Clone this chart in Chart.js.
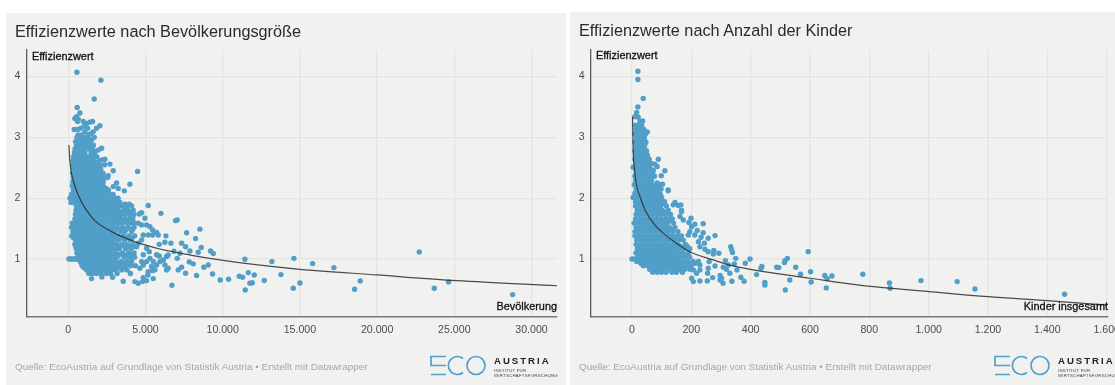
<!DOCTYPE html>
<html>
<head>
<meta charset="utf-8">
<title>Effizienzwerte</title>
<script src="https://cdn.jsdelivr.net/npm/chart.js@4/dist/chart.umd.min.js"></script>
<style>
html, body { margin: 0; padding: 0; background: #fff; width: 1115px; height: 385px; overflow: hidden; font-family: "Liberation Sans", Arial, sans-serif; }
.panel { position: absolute; background: #f1f1f0; }
canvas { position: absolute; left: 0; top: 0; }
.title { position: absolute; font-size: 16.25px; color: #2a2a2a; white-space: nowrap; line-height: 20px; }
.axis-label { position: absolute; font-size: 10.9px; color: #111; white-space: nowrap; line-height: 14px; -webkit-text-stroke: 0.3px #111; }
.source { position: absolute; font-size: 9.95px; color: #a6a6a6; white-space: nowrap; line-height: 14px; }
.logo-name { position: absolute; font-size: 9.6px; font-weight: bold; letter-spacing: 2px; color: #222; white-space: nowrap; line-height: 10px; }
.logo-sub { position: absolute; font-size: 4.4px; letter-spacing: 0.2px; color: #444; line-height: 5px; white-space: nowrap; }
svg { position: absolute; }
</style>
</head>
<body>
<div class="panel" style="left:6px;top:13px;width:560px;height:372px"><canvas id="popChart" width="560" height="372"></canvas></div>
<div class="panel" style="left:570px;top:12px;width:545px;height:373px"><canvas id="kidChart" width="545" height="373"></canvas></div>

<div class="title" style="left:15px;top:21px">Effizienzwerte nach Bevölkerungsgröße</div>
<div class="title" style="left:579px;top:20px">Effizienzwerte nach Anzahl der Kinder</div>
<div class="axis-label" style="left:32px;top:49px">Effizienzwert</div>
<div class="axis-label" style="left:596px;top:48px">Effizienzwert</div>
<div class="axis-label" style="right:558px;top:299px">Bevölkerung</div>
<div class="axis-label" style="right:7px;top:299px">Kinder insgesamt</div>
<div class="source" style="left:15px;top:360px">Quelle: EcoAustria auf Grundlage von Statistik Austria • Erstellt mit Datawrapper</div>
<div class="source" style="left:579px;top:360px">Quelle: EcoAustria auf Grundlage von Statistik Austria • Erstellt mit Datawrapper</div>

<svg style="left:430px;top:355px" width="60" height="22" fill="none" stroke="#4fa0cf" stroke-width="1.7"><path d="M16 1.5H1V10.5H16M1 19.5H16"/><path d="M33 3.5A9 9 0 1 0 33 17.5"/><circle cx="46" cy="10.5" r="9"/></svg>
<div class="logo-name" style="left:494px;top:356px">AUSTRIA</div>
<div class="logo-sub" style="left:494px;top:368px">INSTITUT FÜR<br>WIRTSCHAFTSFORSCHUNG</div>
<svg style="left:994px;top:355px" width="60" height="22" fill="none" stroke="#4fa0cf" stroke-width="1.7"><path d="M16 1.5H1V10.5H16M1 19.5H16"/><path d="M33 3.5A9 9 0 1 0 33 17.5"/><circle cx="46" cy="10.5" r="9"/></svg>
<div class="logo-name" style="left:1058px;top:356px">AUSTRIA</div>
<div class="logo-sub" style="left:1058px;top:368px">INSTITUT FÜR<br>WIRTSCHAFTSFORSCHUNG</div>

<script>
// [efficiency, x, x, x ...] for the dense part of each cloud
var popRows = [
  [3.00,560,790,1010,1240],
  [2.93,470,700,910,1120,1360],
  [2.87,520,730,950,1180,1420,1620],
  [2.81,440,660,880,1090,1310,1530],
  [2.75,400,610,840,1060,1480,1700],
  [2.68,340,560,770,990,1230,1450,1660,1850],
  [2.62,310,520,750,960,1190,1400,1620],
  [2.55,290,500,720,940,1170,1380,1590,1820,2030,2350],
  [2.48,330,540,770,980,1210,1440,1660,1870,2100],
  [2.41,280,490,710,930,1150,1370,1590,1810,2040,2250],
  [2.34,320,530,760,970,1200,1430,1650,1860,2090,2320,2540],
  [2.27,290,510,730,950,1170,1380,1610,1840,2050,2270],
  [2.20,260,480,700,920,1140,1360,1580,1800,2020,2260],
  [2.13,330,550,780,990,1220,1440,1660,1880,2100,2330,2600],
  [2.06,210,430,650,870,1090,1310,1530,1750,1970,2190,2410,2650,2900],
  [2.00,110,340,560,780,1000,1220,1440,1660,1880,2100,2320,2560,2800,3020,3220],
  [1.93,180,420,640,860,1080,1300,1520,1740,1960,2180,2400,2640,2880,3100,3350],
  [1.87,540,760,980,1200,1420,1640,1860,2080,2300,2540,2780,3000,3240,3500,3800,4100],
  [1.80,500,720,940,1160,1380,1600,1820,2040,2260,2500,2760,2980,3240,3600,3850,4200],
  [1.73,460,680,900,1120,1340,1560,1780,2000,2220,2440,2700,2940,3180,3420,3700,3980,4250],
  [1.66,430,650,870,1090,1310,1530,1750,1970,2190,2410,2650,2900,3130,3370,3650,3950,4180],
  [1.59,250,480,700,920,1140,1360,1580,1800,2020,2240,2480,2720,2960,3200,3440,3780,4080,4300],
  [1.52,210,440,660,880,1100,1320,1540,1760,1980,2200,2420,2660,2900,3180,3520,3880,4260],
  [1.45,300,530,750,970,1190,1410,1630,1850,2070,2290,2510,2750,3010,3380,3660,4100],
  [1.38,220,440,660,880,1100,1320,1540,1760,1980,2200,2420,2640,2880,3200,3560,3920,4300],
  [1.31,480,700,920,1140,1360,1580,1800,2020,2240,2460,2680,2920,3260,3640,4000],
  [1.24,420,640,860,1080,1300,1520,1740,1960,2180,2400,2620,2850,3120,3480,3810,4200],
  [1.17,520,740,960,1180,1400,1620,1840,2060,2280,2500,2740,3000,3300,3700,4050],
  [1.10,560,780,1000,1220,1440,1660,1880,2100,2320,2540,2780,3100,3500,3900,4260],
  [1.03,640,860,1080,1300,1520,1740,1960,2180,2400,2620,2860,3160,3620,3980,4300],
  [1.00,40,130,230,340,450,560],
  [0.96,780,1000,1220,1440,1660,1880,2100,2320,2540,2780,3050,3420,3780,4100],
  [0.89,900,1120,1340,1560,1780,2000,2220,2440,2680,2920,3300,3700,4040,4350],
  [0.82,1180,1400,1620,1840,2060,2290,2520,2790,3060,3450,3800],
  [0.76,1330,1560,1830,2130,2480,2740,3160,4020],
  // second pass through the same cloud, filling the gaps between the rows above
  [2.58,400,610,840,1070,1290,1490],
  [2.44,380,610,830,1040,1270,1490,1720,1950],
  [2.30,400,620,840,1060,1280,1500,1730,1950,2170],
  [2.16,420,650,880,1110,1330,1550,1770,1990,2210,2450],
  [2.03,240,450,670,890,1110,1330,1550,1770,1990,2210,2440,2680,2920],
  [1.90,490,710,930,1150,1370,1590,1810,2030,2250,2490,2760,2990,3230,3680,3950],
  [1.77,570,790,1010,1230,1450,1670,1890,2110,2330,2600,2860,3100,3340,3760,4060],
  [1.63,540,760,980,1200,1420,1640,1860,2080,2300,2560,2810,3050,3290,3560,3860],
  [1.49,330,550,770,990,1210,1430,1650,1870,2090,2310,2550,2800,3090,3450,3760,4160],
  [1.35,330,570,790,1010,1230,1450,1670,1890,2110,2330,2550,2780,3090,3420,3740,4130],
  [1.21,480,700,920,1140,1360,1580,1800,2020,2240,2460,2700,2990,3310,3640,4010],
  [1.07,650,870,1090,1310,1530,1750,1970,2190,2410,2660,2950,3320,3720,4080],
  [0.93,840,1060,1280,1500,1720,1940,2160,2380,2620,2870,3190,3580,3910],
  [0.86,1000,1240,1460,1680,1900,2120,2350,2600,2860,3160,3560]
];
// separate points on the left panel: [population, efficiency]
var popPoints = [
  [557,4.07],[2110,3.94],[1680,3.63],[577,3.49],[751,3.40],[535,3.34],[643,3.30],[427,3.31],[600,3.26],
  [967,3.26],[1183,3.23],[1399,3.25],[1572,3.26],[384,3.13],[600,3.13],[816,3.15],[1032,3.18],[1248,3.15],
  [1075,3.09],[2047,3.19],[1830,3.15],[1615,3.09],[1464,3.06],[1291,3.04],[643,3.04],[860,3.04],[1680,3.00],
  [1507,2.96],[1615,2.87],[2155,2.82],[1938,2.79],[1723,2.77],[2370,2.64],[2155,2.63],[1938,2.60],[2695,2.56],
  [2910,2.45],[4486,2.44],[2586,2.37],[3126,2.25],[3990,2.23],[2910,2.19],[3236,2.16],[3625,2.12],
  [5177,1.88],[5998,1.75],[6948,1.63],[7056,1.64],[8524,1.49],[7660,1.43],[6322,1.38],[8243,1.335],[6257,1.275],
  [6646,1.26],[5890,1.24],[7336,1.26],[7595,1.20],[8610,1.19],[7876,1.13],[8416,1.11],[9215,1.13],[9388,1.09],
  [6840,1.127],[7229,1.094],[7056,1.01],[7833,0.95],[8092,0.92],[9064,0.90],[8783,0.865],[9344,0.754],[8308,0.727],
  [7336,0.865],[7121,0.82],[7595,0.765],[6710,0.568],[5501,0.677],[5156,0.738],[4854,0.694],[4810,0.628],[5070,0.644],
  [4530,0.60],[4314,0.628],[3558,0.633],[2867,0.70],[2176,0.705],[1507,0.677],[9841,0.655],[10380,0.666],[11071,0.716],
  [11288,0.70],[11655,0.776],[12043,0.738],[12691,0.645],[13770,0.743],[11439,0.995],[13187,0.957],[14612,1.01],
  [14569,0.518],[11460,0.49],[11763,0.60],[11914,0.61],[15821,0.924],[17203,0.858],[22730,1.116],[24630,0.623],
  [23700,0.518],[28775,0.414],[18540,0.502],[18908,0.639],[15000,0.606],
  [4530,1.587],[4746,1.56],[5070,1.56],[5286,1.53],[4962,1.67],[4746,1.76],[4595,1.74],[5458,1.477],[5717,1.434],
  [5825,1.395],[4854,1.395],[5178,1.395],[5458,1.395],[4746,1.313],[5070,1.176],[5242,1.12],[4854,1.07],[5717,1.07],
  [5890,1.05],[6149,0.984],[6365,1.04],[6473,1.066],[5286,1.01],[5501,0.957],[5717,0.90],[4746,0.957],[5070,0.957],
  [4638,0.847],[4854,0.902],[5393,0.875],[5609,0.82],[5458,0.81],[6257,0.902],[6473,0.847],[6365,0.82],[5933,0.957],
  [5178,0.79],[4422,1.20],[4206,1.20],[4530,1.26]
];
var popTrendX = [40,100,200,430,700,1075,1720,2800,4310,6000,8000,9800,12000,15000,20000,25150,31650];
var popTrendY = [2.875,2.62,2.42,2.2,2.02,1.84,1.63,1.45,1.285,1.16,1.06,0.985,0.91,0.83,0.737,0.643,0.56];
var popTicks = [0,5000,10000,15000,20000,25000,30000];

var kidRows = [
  [3.20,12,24,33],
  [3.13,14,27,40],
  [3.06,10,22,35,46],
  [2.99,15,28,42],
  [2.92,10,22,36,47],
  [2.85,14,28,42],
  [2.78,10,23,36,49],
  [2.71,14,28,42,52],
  [2.64,10,23,36,49,58],
  [2.57,14,28,42,55],
  [2.50,8,20,34,48,60],
  [2.43,14,28,42,56,70],
  [2.36,10,23,37,50,64,76],
  [2.29,12,26,40,54,66],
  [2.22,10,24,38,52,66,80,96],
  [2.15,14,28,42,56,70,84,98],
  [2.08,10,24,38,52,66,80,94],
  [2.01,4,18,32,46,60,74,88,100],
  [1.94,12,26,40,54,68,82,96,110],
  [1.87,12,26,40,54,68,82,96,116],
  [1.80,18,32,46,60,74,88,102,122,167],
  [1.73,14,28,42,56,70,84,98,114,130],
  [1.66,12,26,40,54,68,82,96,110,124,136],
  [1.59,7,21,35,49,63,77,91,105,119,140],
  [1.52,14,28,42,56,70,84,98,112,126,145],
  [1.45,10,24,38,52,66,80,94,108,122,138,155],
  [1.38,10,24,38,52,66,80,94,108,122,136,152,167],
  [1.31,16,30,44,58,72,86,100,114,128,142,158,173],
  [1.24,14,28,42,56,70,84,98,112,126,140,154,180],
  [1.17,18,32,46,60,74,88,102,116,130,144,160,176,195],
  [1.10,14,28,42,56,70,84,98,112,126,140,154,170,190],
  [1.03,20,34,48,62,76,90,104,118,132,146,160,178,195],
  [1.00,0,8,18],
  [0.96,16,30,44,58,72,86,100,114,128,142,156,170,186,206,224],
  [0.89,38,52,66,80,94,108,122,136,150,166,184,200],
  [0.83,60,74,88,102,116,130,144,160,178,195],
  [0.78,70,85,100,115,135,150,170],
  // second pass through the same cloud, filling the gaps between the rows above
  [3.03,18,31,41],
  [2.89,18,32,44],
  [2.75,18,31,44],
  [2.61,17,30,43,52],
  [2.47,21,35,49,62],
  [2.33,17,30,44,58],
  [2.19,17,31,45,59,73,88],
  [2.05,17,31,45,59,73,87,96],
  [1.91,19,33,47,61,75,89,103],
  [1.77,25,39,53,67,81,95,110,120],
  [1.63,19,33,47,61,75,89,103,117,129],
  [1.49,21,35,49,63,77,91,105,119,132],
  [1.35,23,37,51,65,79,93,107,121,135,149,162],
  [1.21,21,35,49,63,77,91,105,119,133,147,163,186],
  [1.07,25,39,53,67,81,95,109,123,137,151,166,184],
  [0.93,30,44,58,72,86,100,114,128,142,158,178,196,214]
];
// separate points on the right panel: [children, efficiency]
var kidPoints = [
  [20,4.087],[20,3.95],[38,3.64],[20,3.50],[16,3.41],[10,3.34],[21,3.33],[36,3.27],[27,3.26],[52,3.09],[38,3.12],
  [89,2.64],[55,2.64],[66,2.57],[77,2.56],[85,2.52],[72,2.46],[111,2.45],[99,2.37],[103,2.23],[85,2.25],[122,2.135],
  [4,2.51],[8,2.22],[122,2.12],[145,1.93],[139,1.89],[156,1.88],[165,1.89],[167,1.78],[162,1.70],[173,1.64],[199,1.67],
  [192,1.60],[212,1.57],[240,1.58],[201,1.53],[220,1.47],[195,1.45],[190,1.395],[240,1.43],[212,1.395],[233,1.357],
  [257,1.34],[280,1.384],[244,1.26],[224,1.285],[229,1.20],[246,1.16],[257,1.12],[276,1.14],[293,1.094],[274,1.08],
  [333,1.20],[336,1.15],[339,1.105],[350,1.01],[315,0.973],[345,0.92],[398,1.00],[382,0.93],[325,0.90],[308,0.864],
  [354,0.82],[330,0.765],[318,0.83],[280,0.885],[257,0.847],[260,0.957],[229,0.90],[229,0.82],[218,0.765],[207,0.82],
  [255,0.765],[272,0.694],[297,0.727],[302,0.683],[297,0.655],[307,0.60],[337,0.633],[367,0.70],[378,0.633],[254,0.639],
  [229,0.639],[207,0.628],[201,0.683],[420,0.743],[435,0.847],[438,0.875],[448,0.612],[448,0.573],[488,0.864],[495,0.858],
  [514,0.94],[516,0.973],[524,1.01],[552,0.864],[568,0.749],[517,0.491],[532,0.655],[594,1.12],[602,0.79],[604,0.622],
  [650,0.727],[658,0.677],[655,0.524],[674,0.72],[778,0.749],[868,0.606],[870,0.518],[974,0.644],[1096,0.628],[1156,0.507],[1458,0.42]
];
var kidTrendX = [2,4,8,16,27,44,72,106,150,195,274,330,399,600,786,1001,1201,1400,1600];
var kidTrendY = [3.34,2.8,2.5,2.2,2.03,1.81,1.59,1.42,1.26,1.12,0.985,0.9,0.83,0.683,0.557,0.464,0.38,0.316,0.24];
var kidTicks = [0,200,400,600,800,1000,1200,1400,1600];

var yTicks = [1,2,3,4];

function cloud(rows, points) {
    var out = [];
    rows.forEach(function (row) {
        for (var i = 1; i < row.length; i++) {
            out.push({ x: row[i], y: row[0] });
        }
    });
    points.forEach(function (p) {
        out.push({ x: p[0], y: p[1] });
    });
    return out;
}

function trend(xs, ys) {
    return xs.map(function (x, i) {
        return { x: x, y: ys[i] };
    });
}

function setTicks(list) {
    return function (scale) {
        scale.ticks = list.map(function (v) {
            return { value: v };
        });
    };
}

function dePoints(value) {
    return String(value).replace(/\B(?=(\d{3})+$)/g, '.');
}

function drawPanel(id, points, line, xTicks, xMin, xMax, box) {
    new Chart(document.getElementById(id).getContext('2d'), {
        type: 'scatter',
        data: {
            datasets: [{
                data: line,
                showLine: true,
                pointRadius: 0,
                borderColor: 'rgba(45, 45, 45, 0.85)',
                borderWidth: 1.2,
                cubicInterpolationMode: 'monotone',
                order: 0
            }, {
                data: points,
                pointRadius: 2.7,
                pointBorderWidth: 0,
                backgroundColor: '#519fc8',
                order: 1
            }]
        },
        options: {
            responsive: false,
            animation: false,
            layout: { padding: { top: box.top, right: box.right, left: 0, bottom: 0 } },
            plugins: { legend: { display: false }, tooltip: { enabled: false } },
            scales: {
                x: {
                    type: 'linear',
                    min: xMin,
                    max: xMax,
                    afterBuildTicks: setTicks(xTicks),
                    afterFit: function (scale) {
                        scale.height = box.bottom;
                        scale.paddingLeft = 0;
                        scale.paddingRight = 0;
                    },
                    grid: { color: '#e4e4e3', lineWidth: 1.3, drawTicks: false },
                    border: { color: '#787878', width: 1.6 },
                    ticks: {
                        color: '#4c4c4c',
                        padding: 7,
                        autoSkip: false,
                        maxRotation: 0,
                        font: { family: '"Liberation Sans"', size: 10.6 },
                        callback: dePoints
                    }
                },
                y: {
                    min: 0.054,
                    max: 4.436,
                    afterBuildTicks: setTicks(yTicks),
                    afterFit: function (scale) {
                        scale.width = box.left;
                        scale.paddingTop = 0;
                        scale.paddingBottom = 0;
                    },
                    grid: { color: '#e4e4e3', lineWidth: 1.3, drawTicks: false },
                    border: { color: '#5c5c5c', width: 1.3 },
                    ticks: {
                        color: '#4c4c4c',
                        padding: 6,
                        font: { family: '"Liberation Sans"', size: 10.6 }
                    }
                }
            }
        }
    });
}

drawPanel('popChart', cloud(popRows, popPoints), trend(popTrendX, popTrendY), popTicks, -2707, 31650,
    { left: 20.5, right: 9, top: 37, bottom: 68.5 });
drawPanel('kidChart', cloud(kidRows, kidPoints), trend(kidTrendX, kidTrendY), kidTicks, -139, 1603.4,
    { left: 20.7, right: 7.3, top: 38, bottom: 68.5 });
</script>
</body>
</html>
